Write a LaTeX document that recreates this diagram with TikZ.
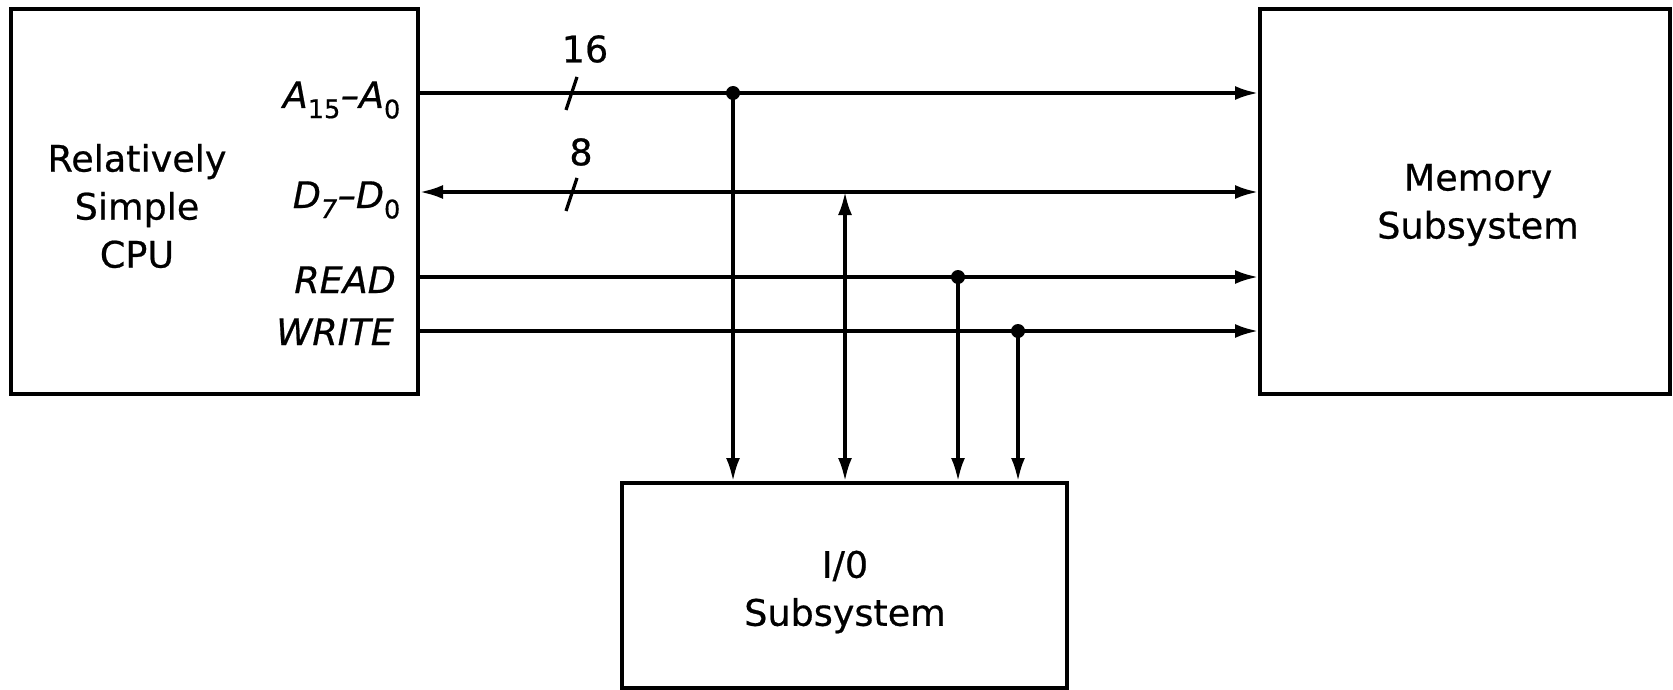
\documentclass[tikz,border=0pt]{standalone}
\usepackage{fontspec}
\setmainfont{DejaVu Sans}[UprightFeatures={FakeBold=0.6},ItalicFeatures={FakeBold=0.6}]
\usetikzlibrary{arrows.meta,calc}
\begin{document}
\begin{tikzpicture}[x=1pt,y=-1pt,
  box/.style={draw,line width=4pt,rectangle,inner sep=0pt},
  sig/.style={line width=3.2pt},
  tip/.style={-{Latex[length=23pt,width=14pt]}},
  bitip/.style={{Latex[length=23pt,width=14pt]}-{Latex[length=23pt,width=14pt]}},
  lbl/.style={font=\fontsize{36.5}{48}\selectfont,align=center,inner sep=0pt},
  pin/.style={font=\fontsize{36.5}{40}\selectfont\itshape,inner sep=0pt,anchor=base east},
  dot/.style={circle,fill,inner sep=0pt,minimum size=14pt}]
\useasboundingbox (0,0) rectangle (1673,690);
% boxes
\node[box,minimum width=407pt,minimum height=385pt] (cpu) at (214.5,201.5) {};
\node[box,minimum width=410pt,minimum height=385pt] (mem) at (1465,201.5) {};
\node[box,minimum width=445pt,minimum height=205pt] (io) at (844.5,585.5) {};
% box texts
\node[lbl] (cputxt) at (137,206) {Relatively\\Simple\\CPU};
\node[lbl] (memtxt) at (1478,205) {Memory\\Subsystem};
\node[lbl] (iotxt) at (845,592) {I/0\\Subsystem};
% bus rows
\coordinate (yA) at (0,93);
\coordinate (yD) at (0,192);
\coordinate (yR) at (0,277);
\coordinate (yW) at (0,331);
% pin labels
\node[pin] (la) at (401,108) {A\textsubscript{\upshape 15}--A\textsubscript{\upshape 0}};
\node[pin] (ld) at (401,208) {D\textsubscript{7}--D\textsubscript{\upshape 0}};
\node[pin] (lr) at (396,293) {READ};
\node[pin] (lw) at (394,345) {WRITE};
% horizontal buses
\draw[sig,tip] (cpu.east |- yA) -- (mem.west |- yA);
\draw[sig,bitip] (cpu.east |- yD) -- (mem.west |- yD);
\draw[sig,tip] (cpu.east |- yR) -- (mem.west |- yR);
\draw[sig,tip] (cpu.east |- yW) -- (mem.west |- yW);
% taps
\coordinate (tA) at (733,93);
\coordinate (tD) at (845,192);
\coordinate (tR) at (958,277);
\coordinate (tW) at (1018,331);
\node[dot] (dA) at (tA) {};
\node[dot] (dR) at (tR) {};
\node[dot] (dW) at (tW) {};
\draw[sig,tip] (dA.center) -- (io.north -| tA);
\draw[sig,bitip] (tD) -- (io.north -| tD);
\draw[sig,tip] (dR.center) -- (io.north -| tR);
\draw[sig,tip] (dW.center) -- (io.north -| tW);
% bus width marks
\coordinate (sA1) at (566,110);
\coordinate (sA2) at (577,77);
\coordinate (sD1) at (566,211);
\coordinate (sD2) at (577,178);
\draw[sig] (sA1) -- (sA2);
\draw[sig] (sD1) -- (sD2);
\node[lbl] (n16) at (585,49) {16};
\node[lbl] (n8) at (581,152) {8};
\end{tikzpicture}
\end{document}
